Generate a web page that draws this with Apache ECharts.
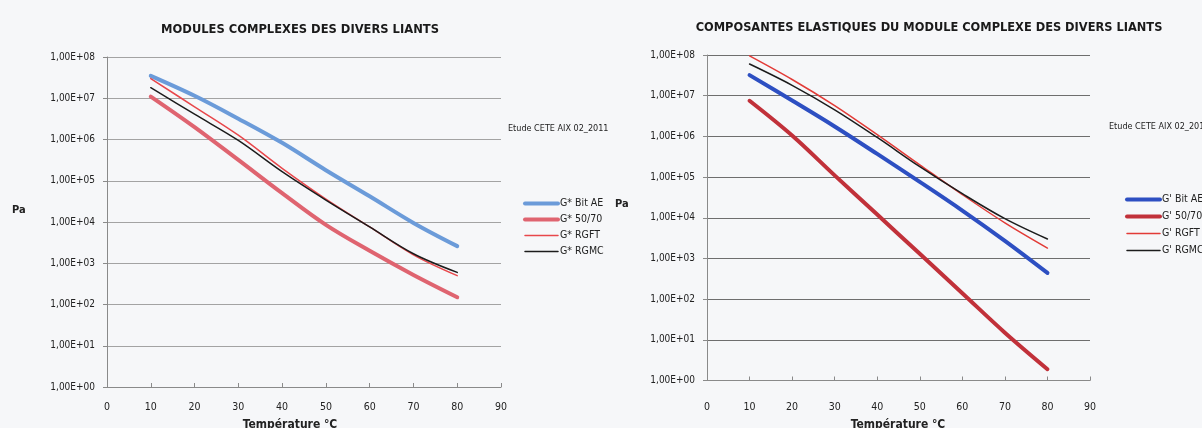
<!DOCTYPE html>
<html>
<head>
<meta charset="utf-8">
<script src="https://cdn.jsdelivr.net/npm/echarts@6/dist/echarts.min.js"></script>
<style>
  html, body { margin: 0; padding: 0; background: #f6f7f9; }
  #chart { width: 1202px; height: 428px; }
</style>
</head>
<body>
<div id="chart"></div>
<script>
// Température (°C) des points de mesure
const temperatures = [10, 20, 30, 40, 50, 60, 70, 80];

// Modules complexes G* (Pa)
const gStarBitAE = [3.5e7, 1.15e7, 3.2e6, 8.3e5, 1.8e5, 4.2e4, 9.5e3, 2.6e3];
const gStar5070  = [1.1e7, 2.0e6, 3.2e5, 5.0e4, 8.5e3, 2.0e3, 5.2e2, 1.5e2];
const gStarRGFT  = [3.0e7, 6.2e6, 1.27e6, 2.0e5, 3.6e4, 7.6e3, 1.6e3, 5.0e2];
const gStarRGMC  = [1.8e7, 4.1e6, 9.5e5, 1.66e5, 3.4e4, 7.6e3, 1.7e3, 6.0e2];

// Composantes élastiques G' (Pa)
const gPrimeBitAE = [3.2e7, 7.6e6, 1.75e6, 3.7e5, 7.6e4, 1.5e4, 2.7e3, 4.4e2];
const gPrime5070  = [7.5e6, 1.05e6, 1.1e5, 1.2e4, 1.3e3, 1.4e2, 15, 1.9];
const gPrimeRGFT  = [9.5e7, 2.5e7, 5.7e6, 1.1e6, 2.0e5, 3.7e4, 7.5e3, 1.8e3];
const gPrimeRGMC  = [6.0e7, 1.8e7, 4.5e6, 9.4e5, 1.8e5, 3.9e4, 9.5e3, 3.0e3];

const leftNames  = ['G* Bit AE', 'G* 50/70', 'G* RGFT', 'G* RGMC'];
const rightNames = ["G' Bit AE", "G' 50/70", "G' RGFT", "G' RGMC"];

const leftTitle  = 'MODULES COMPLEXES DES DIVERS LIANTS';
const rightTitle = 'COMPOSANTES ELASTIQUES DU MODULE COMPLEXE DES DIVERS LIANTS';
const sourceNote = 'Etude CETE AIX 02_2011';
const xName = 'Température °C';
const yName = 'Pa';

const NARROW = '"Liberation Sans Narrow", "Arial Narrow", "DejaVu Sans Condensed", sans-serif';

// line widths: bitumen references drawn thick, modified binders thin
const widths = [4, 4, 1.5, 1.5];

function pairs(values) {
  return temperatures.map((t, i) => [t, values[i]]);
}

function sci(v) {
  const e = Math.round(Math.log10(v));
  return '1,00E+' + (e < 10 ? '0' + e : e);
}

function xAxisFor(gridIndex, margin) {
  return {
    gridIndex, type: 'value', min: 0, max: 90, interval: 10,
    axisLine: { show: true, lineStyle: { color: '#8a8a8a', width: 1 } },
    axisTick: { show: true, inside: true, length: 4, lineStyle: { color: '#8a8a8a' } },
    axisLabel: { color: '#222', fontFamily: NARROW, fontSize: 10.5, margin },
    splitLine: { show: false }
  };
}

function yAxisFor(gridIndex, gridColor) {
  return {
    gridIndex, type: 'log', logBase: 10, min: 1, max: 1e8,
    axisLine: { show: true, lineStyle: { color: '#8a8a8a', width: 1 } },
    axisTick: { show: true, length: 4, lineStyle: { color: '#8a8a8a' } },
    axisLabel: { color: '#222', fontFamily: NARROW, fontSize: 10, margin: 12, formatter: sci },
    splitLine: { show: true, lineStyle: { color: gridColor, width: 1.2 } },
    minorTick: { show: false }
  };
}

function line(name, values, color, width, axisIndex) {
  return {
    name, type: 'line', data: pairs(values),
    xAxisIndex: axisIndex, yAxisIndex: axisIndex,
    smooth: 0.35, symbol: 'none',
    lineStyle: { color, width, cap: 'round' },
    itemStyle: { color },
    z: width > 2 ? 2 : 3
  };
}

const leftColors  = ['#6b9bd9', '#df6470', '#e8474b', '#1c1c1c'];
const rightColors = ['#2d4fc2', '#c1313a', '#e23b37', '#1c1c1c'];

const legendText = { color: '#222', fontFamily: NARROW, fontSize: 10.5, padding: [0, 0, 0, -3] };

function legendData(names) {
  return names.map((n, i) => ({ name: n, lineStyle: { width: widths[i] } }));
}

const option = {
  backgroundColor: '#f6f7f9',
  animation: false,
  title: [
    { text: leftTitle, left: 295, top: 18, textAlign: 'center',
      textStyle: { fontFamily: NARROW, fontWeight: 'bold', fontSize: 12.8, color: '#1a1a1a' } },
    { text: rightTitle, left: 924, top: 16, textAlign: 'center',
      textStyle: { fontFamily: NARROW, fontWeight: 'bold', fontSize: 12.7, color: '#1a1a1a' } }
  ],
  grid: [
    { left: 107, top: 57, width: 394, height: 330 },
    { left: 707, top: 55, width: 383, height: 325.5 }
  ],
  xAxis: [xAxisFor(0, 15), xAxisFor(1, 21)],
  yAxis: [yAxisFor(0, '#a3a3a3'), yAxisFor(1, '#6e6e6e')],
  legend: [
    { orient: 'vertical', left: 523, top: 198, padding: 0, itemWidth: 33, itemHeight: 10, itemGap: 5,
      itemStyle: { opacity: 0 }, data: legendData(leftNames), textStyle: legendText },
    { orient: 'vertical', left: 1125, top: 194, padding: 0, itemWidth: 33, itemHeight: 10, itemGap: 6,
      itemStyle: { opacity: 0 }, data: legendData(rightNames), textStyle: legendText }
  ],
  graphic: [
    { type: 'text', left: 508, top: 124, style: { text: sourceNote, font: '9px ' + NARROW, fill: '#222' } },
    { type: 'text', left: 1109, top: 122, style: { text: sourceNote, font: '9px ' + NARROW, fill: '#222' } },
    { type: 'text', left: 12, top: 205, style: { text: yName, font: 'bold 11px ' + NARROW, fill: '#222' } },
    { type: 'text', left: 615, top: 199, style: { text: yName, font: 'bold 11px ' + NARROW, fill: '#222' } },
    { type: 'text', x: 290, y: 425, style: { text: xName, font: 'bold 12px ' + NARROW, fill: '#222', textAlign: 'center', textVerticalAlign: 'middle' } },
    { type: 'text', x: 898, y: 425, style: { text: xName, font: 'bold 12px ' + NARROW, fill: '#222', textAlign: 'center', textVerticalAlign: 'middle' } }
  ],
  series: [
    line(leftNames[0], gStarBitAE, leftColors[0], widths[0], 0),
    line(leftNames[1], gStar5070, leftColors[1], widths[1], 0),
    line(leftNames[2], gStarRGFT, leftColors[2], widths[2], 0),
    line(leftNames[3], gStarRGMC, leftColors[3], widths[3], 0),
    line(rightNames[0], gPrimeBitAE, rightColors[0], widths[0], 1),
    line(rightNames[1], gPrime5070, rightColors[1], widths[1], 1),
    line(rightNames[2], gPrimeRGFT, rightColors[2], widths[2], 1),
    line(rightNames[3], gPrimeRGMC, rightColors[3], widths[3], 1)
  ]
};

const chart = echarts.init(document.getElementById('chart'), null, { renderer: 'canvas' });
chart.setOption(option);
</script>
</body>
</html>
